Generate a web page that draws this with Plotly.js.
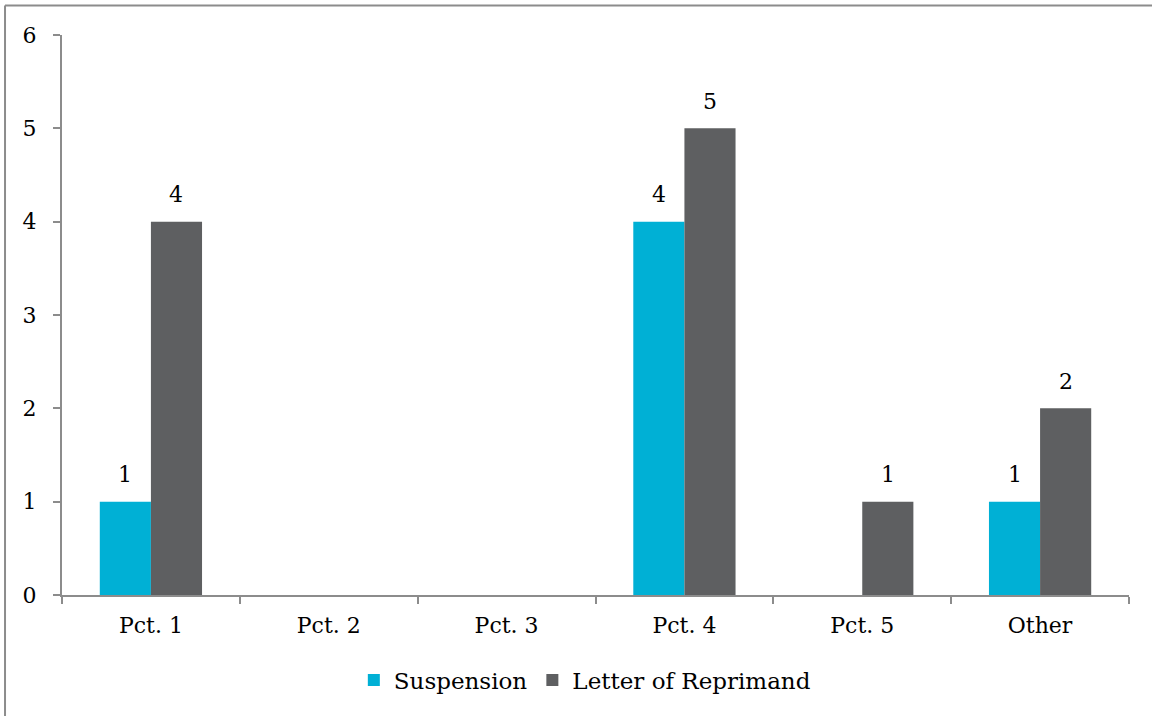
<!DOCTYPE html>
<html>
<head>
<meta charset="utf-8">
<script src="https://cdn.plot.ly/plotly-3.0.1.min.js"></script>
<style>html,body{margin:0;padding:0;background:#fff;}#chart{width:1152px;height:716px;}</style>
</head>
<body>
<div id="chart"></div>
<script>
const categories = ["Pct. 1", "Pct. 2", "Pct. 3", "Pct. 4", "Pct. 5", "Other"];
const suspension = [1, null, null, 4, null, 1];
const reprimand = [4, null, null, 5, 1, 2];
const seriesNames = ["Suspension", "Letter of Reprimand"];
const yTicks = [0, 1, 2, 3, 4, 5, 6];

const FONT = "DejaVu Serif, serif";
const colors = ["#00B0D5", "#5E5F61"];

const traces = [suspension, reprimand].map((vals, i) => ({
  type: "bar",
  name: seriesNames[i],
  x: categories,
  y: vals,
  marker: {color: colors[i], line: {width: 0}},
  hoverinfo: "none"
}));

const annotations = [];
[suspension, reprimand].forEach((vals, i) => {
  vals.forEach((v, j) => {
    if (v === null) return;
    annotations.push({
      x: categories[j], y: v, xref: "x", yref: "y",
      text: String(v), showarrow: false,
      xshift: i === 0 ? -25.5 : 25.5, yshift: 27,
      font: {family: FONT, size: 22, color: "#000"}
    });
  });
});

const layout = {
  width: 1152, height: 716,
  margin: {l: 62, r: 23, t: 35, b: 121},
  paper_bgcolor: "#fff", plot_bgcolor: "#fff",
  barmode: "group", bargap: 0.425, bargroupgap: 0,
  font: {family: FONT, size: 22, color: "#000"},
  xaxis: {
    type: "category", showline: true, linecolor: "#8C8C8C", linewidth: 2,
    ticks: "outside", tickson: "boundaries", ticklen: 7, tickcolor: "#8C8C8C", tickwidth: 2,
    showgrid: false, zeroline: false, fixedrange: true, ticklabelstandoff: 10,
    tickfont: {family: FONT, size: 22, color: "#000"}
  },
  yaxis: {
    range: [0, 6], tickvals: yTicks, ticktext: yTicks.map(String),
    showline: true, linecolor: "#8C8C8C", linewidth: 2,
    ticks: "outside", ticklen: 7, tickcolor: "#8C8C8C", tickwidth: 2,
    showgrid: false, zeroline: false, fixedrange: true, ticklabelstandoff: 12,
    tickfont: {family: FONT, size: 22, color: "#000"}
  },
  legend: {
    orientation: "h", x: 0.49, xanchor: "center", y: -0.152, yanchor: "middle",
    font: {family: FONT, size: 23, color: "#000"}, itemwidth: 30, traceorder: "normal"
  },
  annotations: annotations,
  shapes: [
    {type: "line", xref: "paper", yref: "paper", x0: -0.0534, x1: 1.03, y0: 1.0527, y1: 1.0527, line: {color: "#8C8C8C", width: 2}},
    {type: "line", xref: "paper", yref: "paper", x0: -0.0534, x1: -0.0534, y0: 1.0527, y1: -0.22, line: {color: "#8C8C8C", width: 2}}
  ],
  showlegend: true
};

Plotly.newPlot("chart", traces, layout, {displayModeBar: false, staticPlot: true});
</script>
</body>
</html>
